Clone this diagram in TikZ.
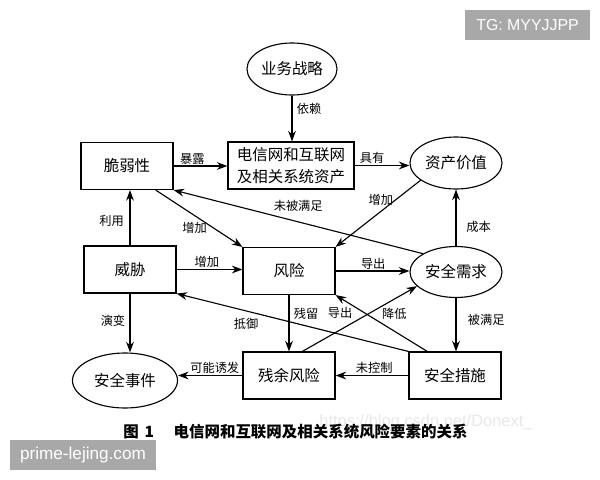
\documentclass[tikz,border=0pt]{standalone}
\usepackage{fontspec}
\setmainfont{Noto Sans CJK SC}
\newfontfamily\latin{Liberation Sans}
\usetikzlibrary{shapes.geometric,arrows.meta}

\begin{document}
\begin{tikzpicture}[
			x=0.025cm, y=-0.025cm,
			kuang/.style={draw, line width=0.8pt, minimum width=2.3cm, minimum height=1.175cm, inner sep=0pt, align=center, font=\fontsize{11}{15.6}\selectfont},
			tuoyuan/.style={ellipse, draw, line width=0.8pt, minimum width=2.3cm, minimum height=1.3cm, inner sep=0pt, font=\fontsize{11}{14}\selectfont},
			arrow/.style={-{Stealth[length=7.5pt,width=5.5pt]}, line width=0.8pt},
			biaoqian/.style={font=\fontsize{8.7}{10}\selectfont, inner sep=1pt},
			shuiyin/.style={fill=black!34, text=white, inner sep=0pt, minimum height=0.75cm}
			]
	\useasboundingbox (0,0) rectangle (600,480);
	
	%% 水印
	\node[text=black!9, font=\latin\fontsize{11.7}{13}\selectfont] (csdn) at (426,422) {https://blog.csdn.net/Donext\_};
	\node[shuiyin, minimum width=3.125cm, font=\latin\fontsize{11.3}{13}\selectfont] (tg) at (527.5,25) {TG: MYYJJPP};
	\node[shuiyin, minimum width=3.65cm, font=\latin\fontsize{12.2}{14}\selectfont] (prime) at (83,455) {prime-lejing.com};
	
	%% 第一、二行: 战略与资产
	\node[tuoyuan, minimum width=2.25cm] (zhanlue) at (292,69) {业务战略};
	\node[kuang, minimum width=3.15cm] (zichan) at (291,165.5) {电信网和互联网 \\ 及相关系统资产};
	\node[kuang] (cuiruo) at (127,166) {脆弱性};
	\node[tuoyuan] (jiazhi) at (456,163) {资产价值};
	
	%% 第三行: 威胁、风险、需求
	\node[kuang] (weixie) at (130,269.5) {威胁};
	\node[kuang] (fengxian) at (289,271) {风险};
	\node[tuoyuan, minimum height=1.275cm] (xuqiu) at (456,272) {安全需求};
	
	%% 第四行: 事件、残余风险、措施
	\node[tuoyuan, minimum width=2.625cm, minimum height=1.375cm] (shijian) at (125,380.5) {安全事件};
	\node[kuang] (canyu) at (289,375.5) {残余风险};
	\node[kuang] (cuoshi) at (455,375.5) {安全措施};
	
	%% 图题
	\node[font=\bfseries\fontsize{11}{13}\selectfont] (tuming) at (295.5,432) {图\hspace{4pt}1\hspace{14pt}电信网和互联网及相关系统风险要素的关系};
	
	%% 连线
	\draw[arrow] (zhanlue.south) -- (zhanlue.south |- zichan.north) node[biaoqian, pos=0.28, right=2pt] {依赖};
	\draw[arrow] (cuiruo.east) -- (cuiruo.east -| zichan.west) node[biaoqian, pos=0.35, above] {暴露};
	\draw[arrow] (zichan.east) -- (zichan.east -| jiazhi.west) node[biaoqian, pos=0.32, above] {具有};
	\draw[arrow] (xuqiu.151) -- (cuiruo.south east) node[biaoqian, pos=0.5, above=6pt] {未被满足};
	\draw[arrow] (jiazhi.206) -- (fengxian.north east) node[biaoqian, pos=0.3, left] {增加};
	\draw[arrow] (xuqiu.north) -- (xuqiu.north |- jiazhi.south) node[biaoqian, pos=0.34, right=6pt] {成本};
	\draw[arrow] (weixie.north) -- (weixie.north |- cuiruo.south) node[biaoqian, pos=0.44, left=3pt] {利用};
	\draw[arrow] (cuiruo.-40) -- (fengxian.north west) node[biaoqian, pos=0.45, below=3pt] {增加};
	\draw[arrow] (weixie.east) -- (weixie.east -| fengxian.west) node[biaoqian, pos=0.46, above] {增加};
	\draw[arrow] (fengxian.east) -- (fengxian.east -| xuqiu.west) node[biaoqian, pos=0.51, above] {导出};
	\draw[arrow] (weixie.south) -- (weixie.south |- shijian.north) node[biaoqian, pos=0.46, left=2pt] {演变};
	\draw[arrow] (fengxian.south) -- (fengxian.south |- canyu.north) node[biaoqian, pos=0.33, right=2pt] {残留};
	\draw[arrow] (cuoshi.north west) -- (weixie.south east) node[biaoqian, pos=0.7, below=3.5pt] {抵御};
	\draw[arrow] (canyu.61) -- (xuqiu.200) node[biaoqian, pos=0.33, above=7pt] {导出};
	\draw[arrow] (cuoshi.139) -- (fengxian.south east) node[biaoqian, pos=0.36, above=7pt] {降低};
	\draw[arrow] (xuqiu.south) -- (xuqiu.south |- cuoshi.north) node[biaoqian, pos=0.41, right=7pt] {被满足};
	\draw[arrow] (cuoshi.west) -- (cuoshi.west -| canyu.east) node[biaoqian, pos=0.47, above] {未控制};
	\draw[arrow] (canyu.west) -- (canyu.west -| shijian.east) node[biaoqian, pos=0.43, above] {可能诱发};
	
\end{tikzpicture}
\end{document}
